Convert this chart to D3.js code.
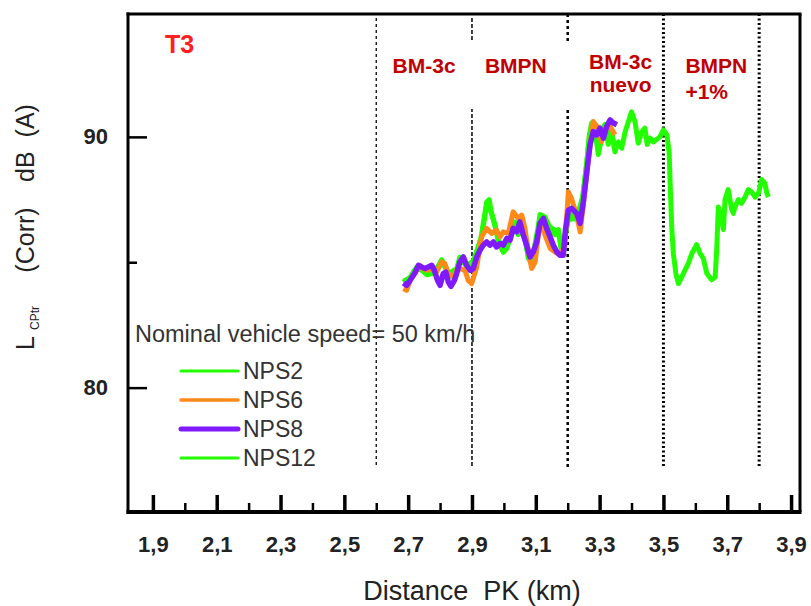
<!DOCTYPE html>
<html>
<head>
<meta charset="utf-8">
<script src="https://cdn.jsdelivr.net/npm/d3@7"></script>
<style>
  html, body { margin: 0; padding: 0; background: #fff; }
  svg { display: block; font-family: "Liberation Sans", Arial, sans-serif; }
</style>
</head>
<body>
<svg id="chart" width="811" height="606"></svg>
<script>
// ---------------- DATA ----------------
const seriesNames = ["NPS2", "NPS6", "NPS8", "NPS12"];
const seriesColors = ["#22ff00", "#ff8a1a", "#7f1aff", "#22ff00"];

const nps2 = [[2.685,84.25],[2.706,84.35],[2.727,84.75],[2.758,84.6],[2.789,84.75],[2.805,85.05],[2.826,84.55],[2.852,84.75],[2.862,85.15],[2.883,84.85],[2.904,85.05],[2.930,86.0],[2.946,87.3],[2.962,86.95],[2.983,85.9],[2.998,85.5],[3.019,85.9],[3.035,86.5],[3.061,86.3],[3.077,85.2],[3.087,85.0],[3.113,86.8],[3.145,86.4],[3.171,86.2],[3.181,85.5],[3.202,86.7],[3.228,86.75],[3.249,87.7],[3.268,90.0],[3.285,90.4],[3.296,89.4],[3.317,90.4],[3.338,90.1],[3.348,89.5]];

const nps6 = [[2.685,83.95],[2.695,83.88],[2.706,84.28],[2.716,84.48],[2.727,84.68],[2.742,84.81],[2.758,84.68],[2.774,84.75],[2.789,84.61],[2.805,85.01],[2.815,84.95],[2.826,84.55],[2.841,84.41],[2.852,84.68],[2.862,84.75],[2.878,84.68],[2.888,84.28],[2.899,84.15],[2.915,84.81],[2.930,86.01],[2.946,86.35],[2.962,86.15],[2.977,86.28],[2.988,86.01],[2.998,86.21],[3.014,86.15],[3.029,87.01],[3.045,86.75],[3.056,86.88],[3.066,86.35],[3.077,85.41],[3.087,84.75],[3.098,85.01],[3.108,86.08],[3.118,86.61],[3.129,86.08],[3.145,85.55],[3.160,85.41],[3.176,85.28],[3.191,85.68],[3.202,87.81],[3.212,87.55],[3.218,87.28],[3.228,86.88],[3.239,86.21],[3.249,87.28],[3.265,89.15],[3.280,90.61],[3.296,90.35],[3.306,89.81],[3.317,90.35],[3.333,90.41],[3.348,90.08]];

const nps8 = [[2.685,84.17],[2.695,84.08],[2.706,84.28],[2.721,84.57],[2.732,84.88],[2.742,84.81],[2.753,84.75],[2.763,84.81],[2.774,84.88],[2.782,84.68],[2.792,84.28],[2.800,84.08],[2.810,84.55],[2.818,84.61],[2.826,84.21],[2.834,84.04],[2.845,84.28],[2.852,84.55],[2.862,85.01],[2.873,85.21],[2.883,84.88],[2.894,84.68],[2.904,84.75],[2.915,85.21],[2.925,85.48],[2.935,85.68],[2.946,85.81],[2.956,85.68],[2.967,85.81],[2.977,85.61],[2.988,85.75],[2.998,85.68],[3.009,85.95],[3.019,85.88],[3.029,86.35],[3.040,86.21],[3.050,86.61],[3.061,86.08],[3.071,85.68],[3.082,85.21],[3.092,85.41],[3.103,85.81],[3.113,86.55],[3.124,86.75],[3.134,86.35],[3.145,86.01],[3.155,85.68],[3.166,85.41],[3.176,85.28],[3.186,85.28],[3.193,86.3],[3.202,87.08],[3.212,87.15],[3.228,86.95],[3.239,86.55],[3.249,87.41],[3.260,88.61],[3.270,89.68],[3.280,90.21],[3.291,90.08],[3.301,90.35],[3.312,89.95],[3.322,90.41],[3.333,90.68],[3.343,90.55],[3.354,90.48]];

const nps12 = [[2.685,84.2],[2.695,84.3],[2.706,84.4],[2.716,84.6],[2.727,84.8],[2.742,84.7],[2.758,84.5],[2.774,84.55],[2.789,84.7],[2.805,85.1],[2.815,84.9],[2.826,84.5],[2.841,84.4],[2.852,84.7],[2.862,85.2],[2.873,85.1],[2.883,84.8],[2.894,84.9],[2.904,85.0],[2.915,85.3],[2.930,86.1],[2.946,87.4],[2.954,87.5],[2.962,86.9],[2.972,86.5],[2.983,85.8],[2.998,85.4],[3.009,85.55],[3.019,85.95],[3.035,86.6],[3.045,86.1],[3.061,86.35],[3.077,85.15],[3.087,84.95],[3.103,85.8],[3.113,86.9],[3.129,86.8],[3.145,86.35],[3.160,86.1],[3.171,86.3],[3.181,85.4],[3.191,85.9],[3.202,86.8],[3.212,86.9],[3.228,86.7],[3.239,86.75],[3.249,87.85],[3.260,89.0],[3.268,90.1],[3.275,90.55],[3.285,90.35],[3.296,89.3],[3.306,90.2],[3.317,90.5],[3.327,89.7],[3.338,90.2],[3.348,89.4],[3.359,89.8],[3.369,89.55],[3.380,90.2],[3.390,90.6],[3.400,91.0],[3.411,90.6],[3.421,89.75],[3.432,90.2],[3.442,90.35],[3.449,89.7],[3.458,89.95],[3.468,89.8],[3.479,89.9],[3.489,90.0],[3.500,90.28],[3.511,90.08],[3.518,89.35],[3.521,88.15],[3.526,86.4],[3.531,85.35],[3.539,84.55],[3.547,84.15],[3.557,84.4],[3.568,84.7],[3.578,84.95],[3.589,85.35],[3.604,85.7],[3.615,85.35],[3.625,85.15],[3.636,84.55],[3.651,84.3],[3.662,84.4],[3.667,85.5],[3.672,87.2],[3.683,86.7],[3.688,86.3],[3.693,87.5],[3.703,87.9],[3.714,87.1],[3.719,86.95],[3.724,87.2],[3.735,87.5],[3.745,87.35],[3.756,87.6],[3.766,87.9],[3.777,87.8],[3.787,87.6],[3.798,87.75],[3.808,88.3],[3.818,88.15],[3.824,87.75],[3.829,87.6]];

const sectionBoundaries = [2.6, 2.9, 3.2, 3.5, 3.8];
const sectionLabels = [["BM-3c"], ["BMPN"], ["BM-3c", "nuevo"], ["BMPN", "+1%"]];

const xMajorTicks = [1.9, 2.1, 2.3, 2.5, 2.7, 2.9, 3.1, 3.3, 3.5, 3.7, 3.9];
const xMinorTicks = [2.0, 2.2, 2.4, 2.6, 2.8, 3.0, 3.2, 3.4, 3.6, 3.8];
const yMajorTicks = [80, 90];
const yMinorTicks = [85];

const panelLabel = "T3";
const speedNote = "Nominal vehicle speed= 50 km/h";
const xTitle = "Distance\u00a0\u00a0PK (km)";

// ---------------- CHART ----------------
const svg = d3.select("#chart");
const L = 128, R = 800, T = 14, B = 512;
const x = d3.scaleLinear().domain([1.822, 3.928]).range([L, R]);
const y = d3.scaleLinear().domain([75.04, 94.9]).range([B, T]);
const textCol = "#222";

// vertical section lines
const lineStyles = [
  {w: 1.3, dash: "3,3", top: 18},
  {w: 1.5, dash: "4,2", top: 18},
  {w: 2.5, dash: "3,3", top: 14},
  {w: 3, dash: "2,2.5", top: 14},
  {w: 3, dash: "2,2.5", top: 14}
];
svg.append("g").selectAll("line").data(sectionBoundaries).join("line")
  .attr("x1", d => x(d)).attr("x2", d => x(d))
  .attr("y1", (d, i) => lineStyles[i].top).attr("y2", 468)
  .attr("stroke", "#000")
  .attr("stroke-width", (d, i) => lineStyles[i].w)
  .attr("stroke-dasharray", (d, i) => lineStyles[i].dash);

// white label box
svg.append("rect").attr("x", 466).attr("y", 42).attr("width", 190).attr("height", 67).attr("fill", "#fff");

// section labels
const secLayout = [
  {anchor: "middle", dx: 0, ys: [72.5]},
  {anchor: "middle", dx: -4, ys: [72.5]},
  {anchor: "middle", dx: 5, ys: [69, 92]},
  {anchor: "start", dx: 0, ys: [72.5, 99]}
];
sectionLabels.forEach((lines, i) => {
  const lay = secLayout[i];
  const a = sectionBoundaries[i], b = sectionBoundaries[i + 1];
  const xp = lay.anchor === "middle" ? (x(a) + x(b)) / 2 + lay.dx : x(a) + 22;
  lines.forEach((t, j) => {
    svg.append("text").attr("x", xp).attr("y", lay.ys[j])
      .attr("text-anchor", lay.anchor)
      .attr("font-size", 21).attr("font-weight", "bold").attr("fill", "#c00000")
      .text(t);
  });
});

// panel label
svg.append("text").attr("x", 165).attr("y", 53).attr("font-size", 25).attr("font-weight", "bold")
  .attr("fill", "#ff2020").text(panelLabel);

// series (drawing order: greens underneath, then orange, then purple)
const line = d3.line().x(d => x(d[0])).y(d => y(d[1]));
const drawOrder = [
  {data: nps12, color: seriesColors[3], w: 5},
  {data: nps2, color: seriesColors[0], w: 5},
  {data: nps6, color: seriesColors[1], w: 5},
  {data: nps8, color: seriesColors[2], w: 5.5}
];
drawOrder.forEach(s => {
  svg.append("path").datum(s.data).attr("d", line)
    .attr("fill", "none").attr("stroke", s.color)
    .attr("stroke-width", s.w).attr("stroke-linejoin", "round");
});

// axes (ticks inward)
const fmt = d => d.toFixed(1).replace(".", ",");
const gx = svg.append("g").attr("transform", `translate(0,${B})`)
  .call(d3.axisBottom(x).tickValues(xMajorTicks).tickFormat(fmt).tickSizeInner(-17).tickSizeOuter(0).tickPadding(24));
gx.select(".domain").remove();
gx.selectAll(".tick line").attr("stroke", "#000").attr("stroke-width", 3.5);
gx.selectAll(".tick text").attr("font-size", 22).attr("font-weight", "bold").attr("fill", textCol)
  .attr("font-family", "Liberation Sans, Arial, sans-serif");

const gxm = svg.append("g").attr("transform", `translate(0,${B})`)
  .call(d3.axisBottom(x).tickValues(xMinorTicks).tickFormat("").tickSizeInner(-9).tickSizeOuter(0));
gxm.select(".domain").remove();
gxm.selectAll(".tick line").attr("stroke", "#000").attr("stroke-width", 2.5);

const gy = svg.append("g").attr("transform", `translate(${L},0)`)
  .call(d3.axisLeft(y).tickValues(yMajorTicks).tickFormat(d3.format("d")).tickSizeInner(-19).tickSizeOuter(0).tickPadding(20));
gy.select(".domain").remove();
gy.selectAll(".tick line").attr("stroke", "#000").attr("stroke-width", 2.5);
gy.selectAll(".tick text").attr("font-size", 22).attr("font-weight", "bold").attr("fill", textCol)
  .attr("font-family", "Liberation Sans, Arial, sans-serif");

const gym = svg.append("g").attr("transform", `translate(${L},0)`)
  .call(d3.axisLeft(y).tickValues(yMinorTicks).tickFormat("").tickSizeInner(-9).tickSizeOuter(0));
gym.select(".domain").remove();
gym.selectAll(".tick line").attr("stroke", "#000").attr("stroke-width", 2.5);

// frame
svg.append("line").attr("x1", L).attr("x2", L).attr("y1", T - 1.5).attr("y2", B + 2).attr("stroke", "#000").attr("stroke-width", 3);
svg.append("line").attr("x1", L - 1.5).attr("x2", R + 1.5).attr("y1", B).attr("y2", B).attr("stroke", "#000").attr("stroke-width", 4);
svg.append("line").attr("x1", L - 1.5).attr("x2", R + 1.5).attr("y1", T).attr("y2", T).attr("stroke", "#000").attr("stroke-width", 3);
svg.append("line").attr("x1", R).attr("x2", R).attr("y1", T).attr("y2", B).attr("stroke", "#000").attr("stroke-width", 3);

// axis titles
svg.append("text").attr("x", 472).attr("y", 600).attr("text-anchor", "middle")
  .attr("font-size", 27).attr("fill", textCol).text(xTitle);

const yt = [
  {t: "L", cy: 343, fs: 25, dx: 0},
  {t: "CPtr", cy: 318, fs: 12, dx: 5},
  {t: "(Corr)", cy: 240, fs: 25, dx: 0},
  {t: "dB\u00a0\u00a0(A)", cy: 143, fs: 25, dx: 0}
];
yt.forEach(p => {
  svg.append("text").attr("transform", `translate(${34 + p.dx},${p.cy}) rotate(-90)`)
    .attr("text-anchor", "middle").attr("font-size", p.fs).attr("fill", textCol).text(p.t);
});

// legend
svg.append("text").attr("x", 135).attr("y", 342).attr("font-size", 23.5).attr("fill", "#333").text(speedNote);
const legY = [371, 400, 429, 458];
const legW = [3, 3.5, 5, 3];
seriesNames.forEach((n, i) => {
  svg.append("line").attr("x1", 181).attr("x2", 238).attr("y1", legY[i]).attr("y2", legY[i])
    .attr("stroke", seriesColors[i]).attr("stroke-width", legW[i]).attr("stroke-linecap", "round");
  svg.append("text").attr("x", 243).attr("y", legY[i] + 8).attr("font-size", 23).attr("fill", "#333").text(n);
});
</script>
</body>
</html>
